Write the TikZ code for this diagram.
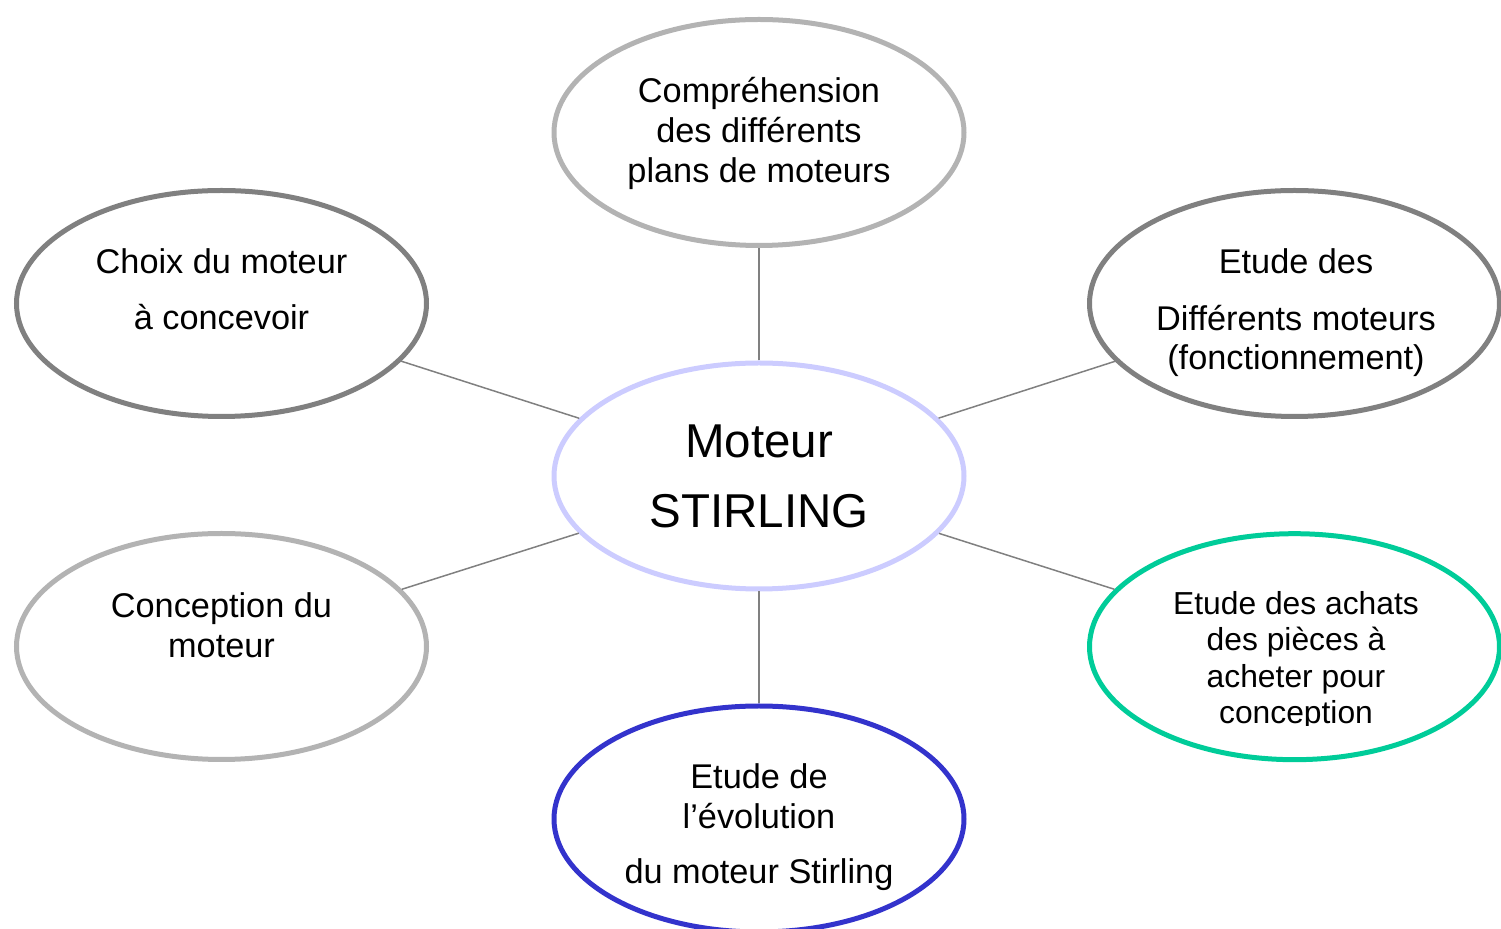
\documentclass[tikz,border=0pt]{standalone}
\usepackage{fontspec}
\setmainfont{Liberation Sans}
\usetikzlibrary{shapes.geometric}
\definecolor{lightgr}{HTML}{B3B3B3}
\definecolor{darkgr}{HTML}{808080}
\definecolor{lavender}{HTML}{CCCCFF}
\definecolor{teal}{HTML}{00CC99}
\definecolor{deepblue}{HTML}{3333CC}
\definecolor{linkgray}{HTML}{808080}
\begin{document}
\begin{tikzpicture}[x=0.5pt,y=-0.5pt,
  bubble/.style={ellipse, draw, line width=2.5pt, fill=white, minimum width=205pt, minimum height=113pt, inner sep=0pt},
  link/.style={draw=linkgray, line width=0.75pt},
  lbl/.style={anchor=base, inner sep=0pt, font=\fontsize{17.15}{20}\selectfont},
  lblsmall/.style={anchor=base, inner sep=0pt, font=\fontsize{15.9}{18}\selectfont},
  lblbig/.style={anchor=base, inner sep=0pt, font=\fontsize{23.75}{28}\selectfont}]
\useasboundingbox (0,0) rectangle (1501,929);

% ellipses
\node[bubble, draw=lavender] (c) at (759,476) {};
\node[bubble, draw=lightgr] (top) at (759,132.5) {};
\node[bubble, draw=darkgr] (lt) at (221.5,303.5) {};
\node[bubble, draw=darkgr] (rt) at (1294.5,303.5) {};
\node[bubble, draw=lightgr] (lb) at (221.5,646.5) {};
\node[bubble, draw=teal] (rb) at (1294.5,646.7) {};
\node[bubble, draw=deepblue] (bot) at (759,819) {};

% connectors
\draw[link] (c) -- (top);
\draw[link] (c) -- (lt);
\draw[link] (c) -- (rt);
\draw[link] (c) -- (lb);
\draw[link] (c) -- (rb);
\draw[link] (c) -- (bot);

% texts
\node[lblbig] (c1) at (759,457.3) {Moteur};
\node[lblbig] (c2) at (759,527.3) {STIRLING};

\node[lbl] (top1) at (759,102.5) {Compréhension};
\node[lbl] (top2) at (759,143) {des différents};
\node[lbl] (top3) at (759,182.5) {plans de moteurs};

\node[lbl] (lt1) at (221.5,273.5) {Choix du moteur};
\node[lbl] (lt2) at (221.5,330) {à concevoir};

\node[lbl] (rt1) at (1296,273.5) {Etude des};
\node[lbl] (rt2) at (1296,330.5) {Différents moteurs};
\node[lbl] (rt3) at (1296,369.5) {(fonctionnement)};

\node[lbl] (lb1) at (221.5,617.3) {Conception du};
\node[lbl] (lb2) at (221.5,657.5) {moteur};

\begin{scope}
\clip (1100,560) rectangle (1490,726);
\node[lblsmall] (rb1) at (1296,614.5) {Etude des achats};
\node[lblsmall] (rb2) at (1296,651) {des pièces à};
\node[lblsmall] (rb3) at (1296,687.5) {acheter pour};
\node[lblsmall] (rb4) at (1296,724) {conception};
\end{scope}

\node[lbl] (b1) at (759,788.3) {Etude de};
\node[lbl] (b2) at (759,828.5) {l’évolution};
\node[lbl] (b3) at (759,884) {du moteur Stirling};
\end{tikzpicture}
\end{document}
